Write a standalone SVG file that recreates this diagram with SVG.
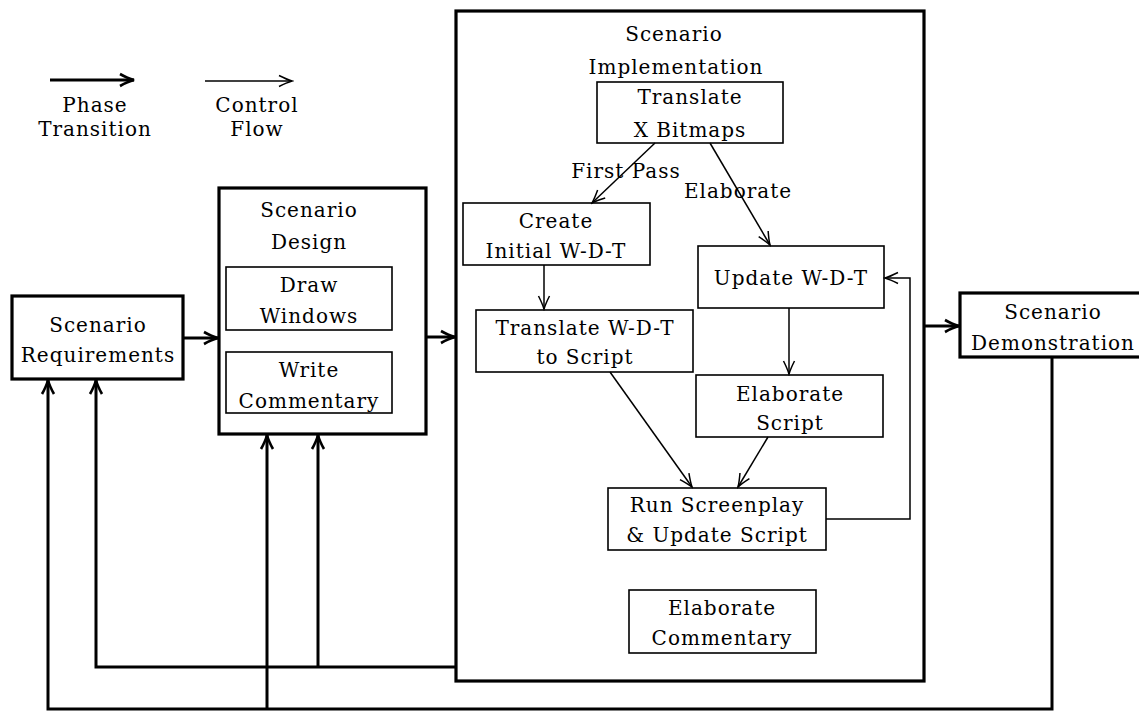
<svg xmlns="http://www.w3.org/2000/svg" width="1139" height="711" viewBox="0 0 1139 711">
<style>
text{font-family:"DejaVu Serif","Liberation Serif",serif;font-size:20px;letter-spacing:1px;fill:#000;text-anchor:middle}
.thick{fill:none;stroke:#000;stroke-width:3;stroke-linejoin:miter}
.thin{fill:none;stroke:#000;stroke-width:1.5}
.box{fill:#fff;stroke:#000;stroke-width:1.6}
.bigbox{fill:#fff;stroke:#000;stroke-width:3.2}
</style>
<defs>
<marker id="ahThick" markerUnits="userSpaceOnUse" viewBox="-16 -8 18 16" refX="0" refY="0" markerWidth="18" markerHeight="16" orient="auto">
<path d="M-14,-6 Q-6,-1.5 0,0 Q-6,1.5 -14,6" fill="none" stroke="#000" stroke-width="2.6"/>
</marker>
<marker id="ahThin" markerUnits="userSpaceOnUse" viewBox="-16 -8 18 16" refX="0" refY="0" markerWidth="18" markerHeight="16" orient="auto">
<path d="M-13,-5.5 Q-5,-1.5 0,0 Q-5,1.5 -13,5.5" fill="none" stroke="#000" stroke-width="1.5"/>
</marker>
</defs>
<rect x="0" y="0" width="1139" height="711" fill="#fff"/>

<g id="legend">
<line x1="50" y1="80" x2="134" y2="80" class="thick" stroke-width="4" marker-end="url(#ahThick)"/>
<text x="95" y="112">Phase</text>
<text x="95" y="136">Transition</text>
<line x1="205" y1="81" x2="292" y2="81" class="thin" marker-end="url(#ahThin)"/>
<text x="257" y="112">Control</text>
<text x="257" y="136">Flow</text>
</g>

<g id="scenario-requirements">
<rect x="12" y="296" width="171" height="83" class="bigbox"/>
<text x="98" y="332">Scenario</text>
<text x="98" y="362">Requirements</text>
</g>

<g id="scenario-design">
<rect x="219" y="188" width="207" height="246" class="bigbox"/>
<text x="309" y="217">Scenario</text>
<text x="309" y="249">Design</text>
</g>
<g id="draw-windows">
<rect x="226" y="267" width="166" height="63" class="box"/>
<text x="309" y="292">Draw</text>
<text x="309" y="323">Windows</text>
</g>
<g id="write-commentary">
<rect x="226" y="352" width="166" height="61" class="box"/>
<text x="309" y="377">Write</text>
<text x="309" y="408">Commentary</text>
</g>

<g id="scenario-implementation">
<rect x="456" y="11" width="468" height="670" class="bigbox"/>
<text x="674" y="41">Scenario</text>
<text x="676" y="74">Implementation</text>
</g>
<g id="translate-x-bitmaps">
<rect x="597" y="82" width="186" height="61" class="box"/>
<text x="690" y="104">Translate</text>
<text x="690" y="137">X Bitmaps</text>
</g>
<g id="create-initial-wdt">
<rect x="463" y="203" width="187" height="62" class="box"/>
<text x="556" y="228">Create</text>
<text x="556" y="258">Initial W-D-T</text>
</g>
<g id="update-wdt">
<rect x="698" y="246" width="186" height="62" class="box"/>
<text x="791" y="285">Update W-D-T</text>
</g>
<g id="translate-wdt-to-script">
<rect x="476" y="310" width="217" height="62" class="box"/>
<text x="585" y="335">Translate W-D-T</text>
<text x="585" y="364">to Script</text>
</g>
<g id="elaborate-script">
<rect x="696" y="375" width="187" height="62" class="box"/>
<text x="790" y="401">Elaborate</text>
<text x="790" y="430">Script</text>
</g>
<g id="run-screenplay">
<rect x="608" y="488" width="218" height="62" class="box"/>
<text x="717" y="512">Run Screenplay</text>
<text x="717" y="542">&amp; Update Script</text>
</g>
<g id="elaborate-commentary">
<rect x="629" y="590" width="187" height="63" class="box"/>
<text x="722" y="615">Elaborate</text>
<text x="722" y="645">Commentary</text>
</g>

<g id="scenario-demonstration">
<rect x="960" y="293" width="190" height="64" class="bigbox"/>
<text x="1053" y="319">Scenario</text>
<text x="1053" y="350">Demonstration</text>
</g>

<g id="connectors">
<line x1="183" y1="338" x2="218" y2="338" class="thick" marker-end="url(#ahThick)"/>
<line x1="426" y1="337" x2="455" y2="337" class="thick" marker-end="url(#ahThick)"/>
<line x1="924" y1="326" x2="959" y2="326" class="thick" marker-end="url(#ahThick)"/>
<polyline points="456,667 96,667 96,380" class="thick" marker-end="url(#ahThick)"/>
<line x1="318" y1="667" x2="318" y2="435" class="thick" marker-end="url(#ahThick)"/>
<polyline points="1052,357 1052,709 48,709 48,380" class="thick" stroke-width="2.4" marker-end="url(#ahThick)"/>
<line x1="267" y1="709" x2="267" y2="435" class="thick" marker-end="url(#ahThick)"/>

<text x="626" y="178">First Pass</text>
<text x="738" y="198">Elaborate</text>
<line x1="655" y1="143" x2="592" y2="203" class="thin" marker-end="url(#ahThin)"/>
<line x1="710" y1="143" x2="770" y2="245" class="thin" marker-end="url(#ahThin)"/>
<line x1="544" y1="265" x2="544" y2="309" class="thin" marker-end="url(#ahThin)"/>
<line x1="789" y1="308" x2="789" y2="374" class="thin" marker-end="url(#ahThin)"/>
<line x1="610" y1="372" x2="692" y2="487" class="thin" marker-end="url(#ahThin)"/>
<line x1="768" y1="437" x2="738" y2="487" class="thin" marker-end="url(#ahThin)"/>
<polyline points="826,519 910,519 910,278 885,278" class="thin" marker-end="url(#ahThin)"/>
</g>
</svg>
